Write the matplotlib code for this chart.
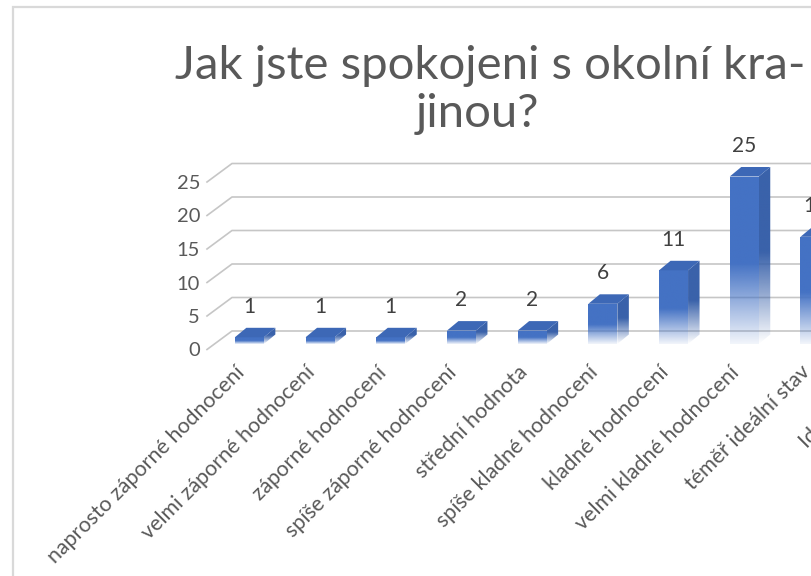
import numpy as np
import matplotlib
matplotlib.use("Agg")
import matplotlib.pyplot as plt
from matplotlib.patches import Polygon, Rectangle
from matplotlib.colors import to_rgb
from matplotlib.transforms import ScaledTranslation

plt.rcParams['font.family'] = ['Lato', 'DejaVu Sans']

title = "Jak jste spokojeni s okolní kra-\njinou?  "
categories = ["naprosto záporné hodnocení", "velmi záporné hodnocení", "záporné hodnocení",
              "spíše záporné hodnocení", "střední hodnota", "spíše kladné hodnocení",
              "kladné hodnocení", "velmi kladné hodnocení", "téměř ideální stav", "Ideální stav"]
values = [1, 1, 1, 2, 2, 6, 11, 25, 16]
y_ticks = [0, 5, 10, 15, 20, 25]

W, H = 811, 576
BAND, UNIT = 70.7, 6.7
fig = plt.figure(figsize=(W / 100, H / 100), dpi=100)
fig.add_artist(Rectangle((12.5 / W, -0.2), 1.2, 1.2 - 6.5 / H, transform=fig.transFigure,
                         fill=False, edgecolor='#d9d9d9', linewidth=1.6))
ax = fig.add_axes([207 / W, (H - 349.5) / H, BAND * len(categories) / W, UNIT * 25 / H])
ax.set_xlim(-0.5, len(categories) - 0.5)
ax.set_ylim(0, 25)
ax.patch.set_alpha(0)
for s in ax.spines.values():
    s.set_visible(False)

px = lambda d: d / BAND   # horizontal pixels -> category units
py = lambda d: d / UNIT   # vertical pixels -> value units

# walls: grid lines on the back wall and on the left wall
for t in y_ticks:
    ax.plot([-0.5, -0.5 + px(25), len(categories)],
            [t, t + py(18.5), t + py(18.5)], color='#c6c6c6', lw=1.2, clip_on=False, zorder=1)

FRONT, SIDE, TOP = '#4472c4', '#3a62aa', '#3d68b6'
half = 14.5
inset = (7, 5.5)
depth = (11.5, 9.5)


def fade_image(x0, x1, y0, y1, color, poly, lim=0.52, floor=0.07):
    n = 256
    rows = np.linspace(0, 1, n)       # 0 at top, 1 at bottom
    alpha = np.where(rows > lim, 1 - (1 - floor) * (rows - lim) / (1 - lim), 1.0)
    rgba = np.zeros((n, 2, 4))
    rgba[..., :3] = to_rgb(color)
    rgba[:, :, 3] = alpha[:, None]
    im = ax.imshow(rgba, extent=(x0, x1, y0, y1), origin='upper', aspect='auto',
                   interpolation='bilinear', zorder=3)
    patch = Polygon(poly, closed=True, transform=ax.transData, fc='none', ec='none')
    ax.add_patch(patch)
    im.set_clip_box(fig.bbox)
    im.set_clip_path(patch)


for i, v in enumerate(values):
    xl = i - px(half) + px(inset[0])
    xr = i + px(half) + px(inset[0])
    y0 = py(inset[1])
    yt = v + y0
    dx, dy = px(depth[0]), py(depth[1])
    fade_image(xl, xr, y0, yt, FRONT, [(xl, y0), (xr, y0), (xr, yt), (xl, yt)])
    fade_image(xr, xr + dx, y0, yt + dy, SIDE,
               [(xr, y0), (xr + dx, y0 + dy), (xr + dx, yt + dy), (xr, yt)],
               lim=0.48, floor=0.0)
    ax.add_patch(Polygon([(xl, yt), (xr, yt), (xr + dx, yt + dy), (xl + dx, yt + dy)],
                         closed=True, fc=TOP, ec='none', zorder=3, clip_on=False))
    ax.annotate(str(v), (i + px(inset[0]), yt), xytext=(0, 22), textcoords='offset points',
                ha='center', va='center', fontsize=15, color='#404040', annotation_clip=False)

ax.set_xlim(-0.5, len(categories) - 0.5)
ax.set_ylim(0, 25)
ax.set_yticks(y_ticks)
ax.set_xticks(np.arange(len(categories)))
ax.set_xticklabels(categories, rotation=45, ha='right', rotation_mode='anchor')
ax.tick_params(axis='both', length=0, labelcolor='#595959')
ax.tick_params(axis='y', pad=5, labelsize=14.5)
ax.tick_params(axis='x', pad=9, labelsize=15.4)
shift = ScaledTranslation(-8 / 100, 0, fig.dpi_scale_trans)
for lab in ax.get_xticklabels():
    lab.set_transform(lab.get_transform() + shift)

fig.text(490 / W, 1 - 90 / H, title, ha='center', va='center', fontsize=34, color='#595959',
         linespacing=1.15)
fig.savefig('out.png', dpi=100)
